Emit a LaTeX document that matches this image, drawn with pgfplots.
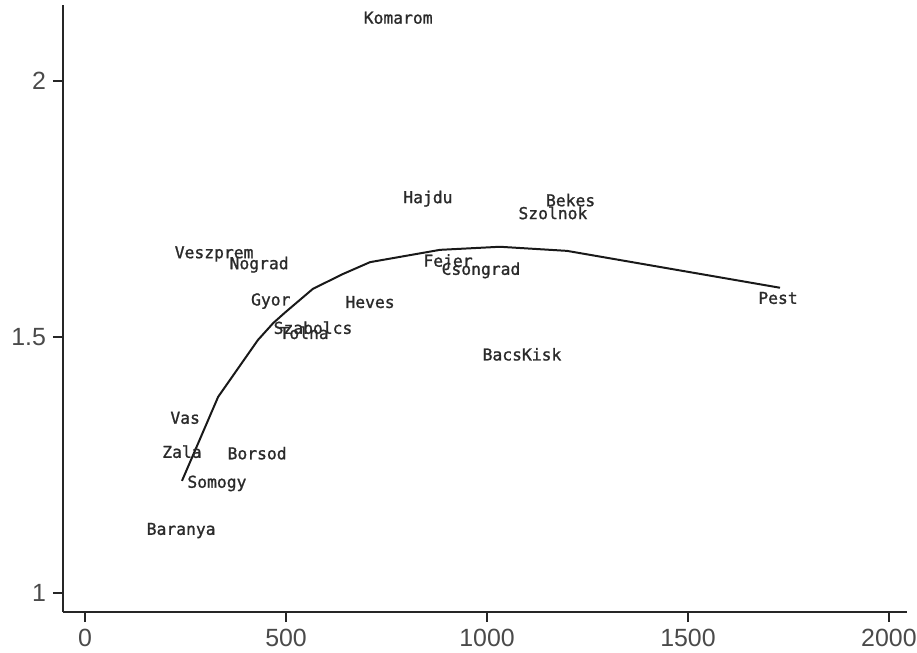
\documentclass[border=0pt]{standalone}
\usepackage{pgfplots}
\pgfplotsset{compat=1.18}
\usepackage{pgfplotstable}
\usepackage{fontspec}
\setmainfont{Liberation Sans}
\newfontfamily\labfont[FakeBold=1.2]{DejaVu Sans Mono}
\definecolor{tickgray}{HTML}{4A4A4A}
\definecolor{labgray}{HTML}{2A2A2A}
\pgfplotstableread{
x y label
779 2.123 Komarom
853 1.770 Hajdu
1208 1.767 Bekes
1164 1.742 Szolnok
321 1.662 Veszprem
433 1.641 Nograd
903 1.646 Fejer
985 1.630 Csongrad
462 1.570 Gyor
709 1.568 Heves
567 1.518 Szabolcs
545 1.508 Tolna
1724 1.576 Pest
1087 1.466 BacsKisk
249 1.342 Vas
241 1.276 Zala
428 1.273 Borsod
328 1.214 Somogy
239 1.122 Baranya
}\labels
\pgfplotstableread{
x y
241 1.219
331 1.383
430 1.494
468 1.527
498 1.548
567 1.594
642 1.623
709 1.646
883 1.670
1032 1.676
1199 1.668
1729 1.596
}\curve
\begin{document}
\begin{tikzpicture}
\begin{axis}[
  at={(0,0)}, anchor=south west,
  scale only axis, width=422bp, height=303.5bp,
  xmin=-55, xmax=2045, ymin=0.963, ymax=2.148,
  axis x line*=bottom, axis y line*=left,
  axis line style={-, line width=0.8pt, black!85},
  tick align=outside, major tick length=5bp,
  tick style={line width=0.7pt, black!85},
  xtick={0,500,1000,1500,2000},
  ytick={1,1.5,2},
  minor tick num=0,
  ticklabel style={font=\fontsize{12.5}{14}\selectfont, text=tickgray},
  /pgf/number format/assume math mode=true,
  /pgf/number format/set thousands separator={},
  clip=false,
]
\addplot[draw=none, mark=none, nodes near coords, nodes near coords align={center},
  point meta=explicit symbolic,
  every node near coord/.append style={font=\labfont\fontsize{8.2}{9}\selectfont, text=labgray, inner sep=0pt}]
  table[x=x, y=y, meta=label] {\labels};
\addplot[line width=1pt, black!90, mark=none] table[x=x, y=y] {\curve};
\end{axis}
\pgfresetboundingbox
\path[use as bounding box] (-31.5bp,-20.5bp) rectangle (427bp,306bp);
\end{tikzpicture}
\end{document}
